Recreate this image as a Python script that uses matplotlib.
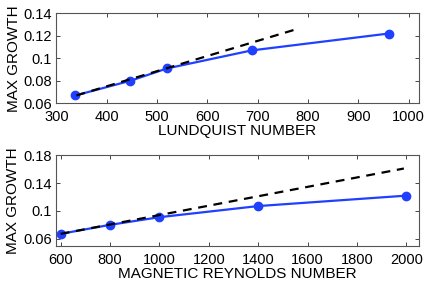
import matplotlib; matplotlib.use("Agg")
import matplotlib.pyplot as plt

# top panel: growth vs Lundquist number
lund = [338, 447, 520, 688, 960]
growth_s = [0.067, 0.080, 0.091, 0.107, 0.122]
lund_fit = [340, 778]
fit_s = [0.067, 0.126]

# bottom panel: growth vs magnetic Reynolds number
rm = [600, 800, 1000, 1400, 2000]
growth_rm = [0.067, 0.080, 0.091, 0.107, 0.122]
rm_fit = [600, 1990]
fit_rm = [0.067, 0.161]

plt.rcParams["font.family"] = ["Liberation Sans", "DejaVu Sans"]
plt.rcParams["font.size"] = 10.5

W, H = 436, 284
fig = plt.figure(figsize=(W/100, H/100), dpi=100)
ax1 = fig.add_axes([56.3/W, (H-103.3)/H, 362.4/W, 90/H])
ax2 = fig.add_axes([55.7/W, (H-245.7)/H, 363/W, 90.4/H])

blue = "#2040ff"
for ax, x, y, fx, fy in [(ax1, lund, growth_s, lund_fit, fit_s), (ax2, rm, growth_rm, rm_fit, fit_rm)]:
    ax.plot(x, y, "-o", color=blue, lw=1.6, ms=6, mec=blue)
    ax.plot(fx, fy, "--", color="black", lw=1.6, dashes=(4, 3))
    ax.tick_params(direction="in", top=True, right=True, length=3, width=0.7, color="#444444")
    ax.tick_params(axis="y", pad=3)
    ax.tick_params(axis="x", pad=5)
    for s in ax.spines.values():
        s.set_color("#555555"); s.set_linewidth(0.8)
    ax.set_ylabel("MAX GROWTH", labelpad=2, fontsize=11)

ax1.set_xlim(300, 1020); ax1.set_ylim(0.06, 0.14)
ax1.set_xticks(range(300, 1001, 100))
ax1.set_yticks([0.06, 0.08, 0.1, 0.12, 0.14])
ax1.set_yticklabels(["0.06", "0.08", "0.1", "0.12", "0.14"])
ax1.set_xlabel("LUNDQUIST NUMBER", labelpad=0, fontsize=11)

ax2.set_xlim(580, 2050); ax2.set_ylim(0.05, 0.18)
ax2.set_xticks(range(600, 2001, 200))
ax2.set_yticks([0.06, 0.1, 0.14, 0.18])
ax2.set_yticklabels(["0.06", "0.1", "0.14", "0.18"])
ax2.set_xlabel("MAGNETIC REYNOLDS NUMBER", labelpad=0, fontsize=11)

fig.savefig("out.png", dpi=100)
